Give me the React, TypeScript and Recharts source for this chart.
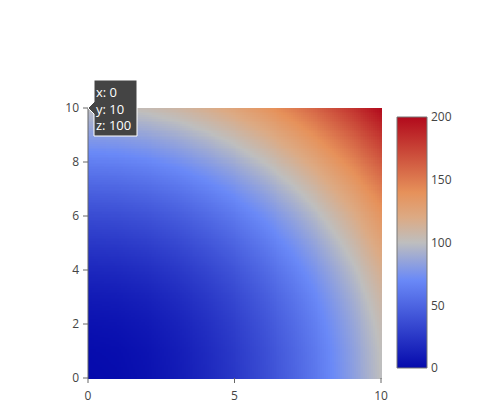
import React from "react";
import {
  ScatterChart,
  Scatter,
  XAxis,
  YAxis,
  ReferenceArea,
  ReferenceDot,
} from "recharts";

const xValues = [0, 1, 2, 3, 4, 5, 6, 7, 8, 9, 10];
const yValues = [0, 1, 2, 3, 4, 5, 6, 7, 8, 9, 10];
// zValues[row = y index][col = x index]
const zValues = [
  [0, 1, 4, 9, 16, 25, 36, 49, 64, 81, 100],
  [1, 2, 5, 10, 17, 26, 37, 50, 65, 82, 101],
  [4, 5, 8, 13, 20, 29, 40, 53, 68, 85, 104],
  [9, 10, 13, 18, 25, 34, 45, 58, 73, 90, 109],
  [16, 17, 20, 25, 32, 41, 52, 65, 80, 97, 116],
  [25, 26, 29, 34, 41, 50, 61, 74, 89, 106, 125],
  [36, 37, 40, 45, 52, 61, 72, 85, 100, 117, 136],
  [49, 50, 53, 58, 65, 74, 85, 98, 113, 130, 149],
  [64, 65, 68, 73, 80, 89, 100, 113, 128, 145, 164],
  [81, 82, 85, 90, 97, 106, 117, 130, 145, 162, 181],
  [100, 101, 104, 109, 116, 125, 136, 149, 164, 181, 200],
];
const xTicks = [0, 5, 10];
const yTicks = [0, 2, 4, 6, 8, 10];
const colorbarTicks = [0, 50, 100, 150, 200];
const hoverPoint = { x: 0, y: 10, z: 100 };

const zMin = 0;
const zMax = 200;
const colorscale: [number, number[]][] = [
  [0, [5, 10, 172]],
  [0.35, [106, 137, 247]],
  [0.5, [190, 190, 190]],
  [0.6, [220, 170, 132]],
  [0.7, [230, 145, 90]],
  [1, [178, 10, 28]],
];

function colorFor(z: number): string {
  let t = (z - zMin) / (zMax - zMin);
  t = Math.max(0, Math.min(1, t));
  for (let k = 1; k < colorscale.length; k++) {
    const [t1, c1] = colorscale[k];
    const [t0, c0] = colorscale[k - 1];
    if (t <= t1) {
      const f = (t - t0) / (t1 - t0);
      const r = Math.round(c0[0] + (c1[0] - c0[0]) * f);
      const g = Math.round(c0[1] + (c1[1] - c0[1]) * f);
      const b = Math.round(c0[2] + (c1[2] - c0[2]) * f);
      return `rgb(${r},${g},${b})`;
    }
  }
  const c = colorscale[colorscale.length - 1][1];
  return `rgb(${c[0]},${c[1]},${c[2]})`;
}

const points = [] as { x: number; y: number; z: number }[];
yValues.forEach((yv, j) =>
  xValues.forEach((xv, i) => points.push({ x: xv, y: yv, z: zValues[j][i] }))
);

const colorbarPoints = colorbarTicks.map((v) => ({ x: 0.5, y: v }));

const cells = [] as { i: number; j: number }[];
for (let j = 0; j < yValues.length - 1; j++)
  for (let i = 0; i < xValues.length - 1; i++) cells.push({ i, j });

const SUB = 15;

function renderCell(props: any, i: number, j: number) {
  const { x, y, width, height } = props;
  const z00 = zValues[j][i];
  const z10 = zValues[j][i + 1];
  const z01 = zValues[j + 1][i];
  const z11 = zValues[j + 1][i + 1];
  const w = width / SUB;
  const h = height / SUB;
  const rects = [] as React.ReactNode[];
  for (let b = 0; b < SUB; b++) {
    const v = 1 - (b + 0.5) / SUB;
    for (let a = 0; a < SUB; a++) {
      const u = (a + 0.5) / SUB;
      const z =
        z00 * (1 - u) * (1 - v) + z10 * u * (1 - v) + z01 * (1 - u) * v + z11 * u * v;
      rects.push(
        <rect
          key={a + "-" + b}
          x={x + a * w}
          y={y + b * h}
          width={w + 0.6}
          height={h + 0.6}
          fill={colorFor(z)}
          shapeRendering="crispEdges"
        />
      );
    }
  }
  return <g>{rects}</g>;
}

function renderTooltip(props: any) {
  const { cx, cy } = props;
  const left = cx + 6;
  const right = cx + 49;
  const top = cy - 28;
  const bottom = cy + 28;
  const d = `M${cx},${cy} L${left},${cy - 6} L${left},${top} L${right},${top} L${right},${bottom} L${left},${bottom} L${left},${cy + 6} Z`;
  const style = { fontFamily: "'Open Sans', sans-serif", fontSize: 13, fill: "#fff" };
  return (
    <g>
      <path d={d} fill="rgb(68,68,68)" stroke="#fff" strokeWidth={1} />
      <text x={left + 2} y={cy - 11} style={style}>{`x: ${hoverPoint.x}`}</text>
      <text x={left + 2} y={cy + 5.5} style={style}>{`y: ${hoverPoint.y}`}</text>
      <text x={left + 2} y={cy + 22} style={style}>{`z: ${hoverPoint.z}`}</text>
    </g>
  );
}

const tickStyle = { fontFamily: "'Open Sans', sans-serif", fontSize: 12, fill: "#444" };

export default function App() {
  return (
    <div style={{ position: "absolute", left: 0, top: 0, width: 480, height: 404, background: "#fff" }}>
      <div style={{ position: "absolute", left: 0, top: 0, width: 480, height: 404 }}>
        <ScatterChart
          width={480}
          height={404}
          margin={{ top: 108, right: 99, bottom: 6, left: 58 }}
        >
          <XAxis
            type="number"
            dataKey="x"
            domain={[0, 10]}
            ticks={xTicks}
            allowDataOverflow
            height={20}
            axisLine={false}
            tickSize={5}
            tickMargin={8}
            tick={tickStyle}
            tickLine={{ stroke: "#666" }}
            interval={0}
          />
          <YAxis
            type="number"
            dataKey="y"
            domain={[0, 10]}
            ticks={yTicks}
            allowDataOverflow
            width={30}
            axisLine={{ stroke: "#666" }}
            tickLine={{ stroke: "#666" }}
            tickSize={5}
            tickMargin={4}
            tick={tickStyle}
            interval={0}
          />
          {cells.map(({ i, j }) => (
            <ReferenceArea
              key={`c-${i}-${j}`}
              x1={xValues[i]}
              x2={xValues[i + 1]}
              y1={yValues[j]}
              y2={yValues[j + 1]}
              ifOverflow="visible"
              shape={(p: any) => renderCell(p, i, j)}
            />
          ))}
          <Scatter
            data={points}
            isAnimationActive={false}
            fill="transparent"
            shape={() => <g />}
          />
          <ReferenceDot
            x={hoverPoint.x}
            y={hoverPoint.y}
            ifOverflow="visible"
            shape={renderTooltip}
          />
        </ScatterChart>
      </div>
      <div style={{ position: "absolute", left: 0, top: 0, width: 480, height: 404 }}>
        <svg width={0} height={0} style={{ position: "absolute" }}>
          <defs>
            <linearGradient id="cbGrad" x1="0" y1="1" x2="0" y2="0">
              {colorscale.map(([t, c]) => (
                <stop key={t} offset={t} stopColor={`rgb(${c[0]},${c[1]},${c[2]})`} />
              ))}
            </linearGradient>
          </defs>
        </svg>
        <ScatterChart
          width={480}
          height={404}
          margin={{ top: 117, right: 13, bottom: 36, left: 397 }}
        >
          <XAxis type="number" dataKey="x" domain={[0, 1]} hide />
          <YAxis
            type="number"
            dataKey="y"
            orientation="right"
            domain={[zMin, zMax]}
            ticks={colorbarTicks}
            width={40}
            axisLine={false}
            tickLine={false}
            tickSize={0}
            tickMargin={4}
            tick={tickStyle}
            interval={0}
          />
          <ReferenceArea
            x1={0}
            x2={1}
            y1={zMin}
            y2={zMax}
            fill="url(#cbGrad)"
            fillOpacity={1}
            stroke="#777"
            strokeWidth={1}
            ifOverflow="visible"
          />
          <Scatter
            data={colorbarPoints}
            isAnimationActive={false}
            fill="transparent"
            shape={() => <g />}
          />
        </ScatterChart>
      </div>
    </div>
  );
}
